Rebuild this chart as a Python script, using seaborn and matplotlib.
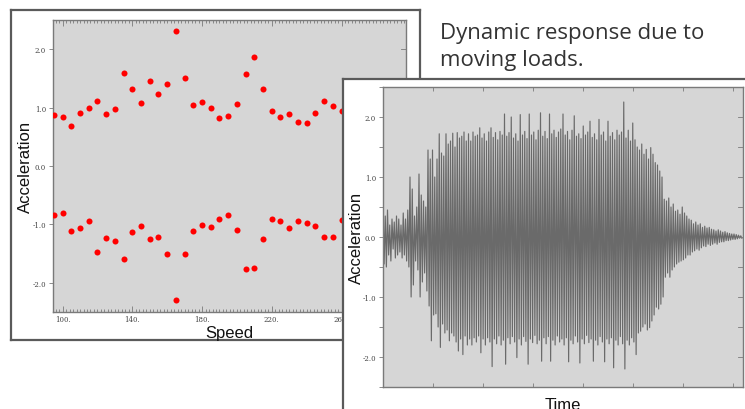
import numpy as np
import pandas as pd
import matplotlib
matplotlib.use("Agg")
import matplotlib.pyplot as plt
import seaborn as sns
from matplotlib.ticker import MultipleLocator, FixedLocator

# ---------------- data ----------------
speed = [95, 100, 105, 110, 115, 120, 125, 130, 135, 140, 145, 150, 155, 160, 165, 170, 175,
         180, 185, 190, 195, 200, 205, 210, 215, 220, 225, 230, 235, 240, 245, 250, 255, 260]
accel_max = [0.87, 0.84, 0.68, 0.90, 1.00, 1.11, 0.89, 0.98, 1.59, 1.31, 1.08, 1.46, 1.23, 1.41,
             2.31, 1.51, 1.05, 1.10, 0.99, 0.82, 0.85, 1.07, 1.58, 1.86, 1.32, 0.95, 0.84, 0.89,
             0.75, 0.73, 0.90, 1.11, 1.03, 0.94]
accel_min = [-0.84, -0.80, -1.12, -1.07, -0.95, -1.47, -1.23, -1.29, -1.60, -1.13, -1.03, -1.25,
             -1.21, -1.50, -2.29, -1.50, -1.12, -1.01, -1.04, -0.91, -0.84, -1.10, -1.77, -1.75,
             -1.25, -0.91, -0.94, -1.06, -0.95, -0.97, -1.02, -1.21, -1.21, -0.92]

# time history: successive peaks and troughs of the response signal
signal_peaks = [
    0.55, 0.35, 0.45, 0.20, 0.30, 0.25, 0.35, 0.30, 0.20, 0.40,
    0.30, 0.45, 1.00, 0.80, 0.35, 0.50, 1.05, 0.70, 0.60, 0.50,
    1.45, 1.30, 1.45, 1.00, 1.30, 1.72, 1.40, 1.35, 1.72, 1.55,
    1.60, 1.73, 1.50, 1.74, 1.65, 1.68, 1.75, 1.60, 1.72, 1.60,
    1.75, 1.68, 1.70, 1.82, 1.65, 1.72, 1.60, 1.75, 1.82, 1.66,
    1.74, 1.62, 1.76, 1.70, 2.05, 1.68, 1.74, 2.00, 1.65, 1.72,
    1.60, 2.04, 1.70, 1.76, 1.64, 2.05, 1.70, 1.75, 1.62, 1.78,
    2.07, 1.68, 1.76, 1.64, 2.05, 1.72, 1.78, 1.66, 1.75, 1.80,
    2.05, 1.70, 1.76, 1.62, 1.78, 2.02, 1.68, 1.72, 1.64, 1.85,
    1.70, 1.75, 1.93, 1.66, 1.72, 1.62, 1.96, 1.70, 1.75, 1.60,
    1.93, 1.68, 1.74, 1.62, 1.78, 1.70, 1.75, 2.25, 1.65, 1.78,
    1.60, 1.90, 1.62, 1.50, 1.45, 1.55, 1.38, 1.46, 1.30, 1.49,
    1.38, 1.24, 1.20, 1.10, 1.00, 0.63, 0.60, 0.65, 0.50, 0.55,
    0.43, 0.45, 0.38, 0.50, 0.40, 0.35, 0.30, 0.28, 0.22, 0.25,
    0.20, 0.22, 0.16, 0.18, 0.15, 0.16, 0.13, 0.12, 0.10, 0.12,
    0.10, 0.08, 0.09, 0.07, 0.06, 0.05, 0.05, 0.04, 0.03, 0.02]
signal_troughs = [
    -0.45, -0.50, -0.30, -0.40, -0.20, -0.35, -0.30, -0.25, -0.35, -0.30,
    -0.40, -0.50, -1.00, -0.80, -0.40, -0.55, -1.00, -0.75, -0.60, -0.90,
    -1.15, -1.73, -1.30, -1.28, -1.50, -1.84, -1.45, -1.60, -1.55, -1.73,
    -1.60, -1.65, -1.75, -1.90, -1.70, -1.96, -1.65, -1.80, -1.70, -1.80,
    -1.68, -1.75, -1.65, -1.93, -1.70, -1.80, -1.68, -1.75, -2.16, -1.70,
    -1.78, -1.65, -1.80, -1.72, -2.12, -1.68, -1.78, -1.66, -1.75, -2.01,
    -1.70, -1.80, -1.66, -1.74, -2.12, -1.70, -1.76, -1.64, -1.78, -1.72,
    -2.07, -1.68, -1.78, -1.66, -2.07, -1.72, -1.80, -1.65, -1.75, -1.70,
    -1.80, -1.68, -2.08, -1.72, -1.78, -1.65, -1.75, -2.10, -1.70, -1.78,
    -1.64, -1.76, -1.70, -2.07, -1.72, -1.80, -1.66, -1.75, -2.08, -1.70,
    -1.78, -1.68, -2.18, -1.72, -1.80, -1.66, -1.78, -2.20, -1.72, -1.80,
    -1.68, -1.75, -1.96, -1.60, -1.57, -1.50, -1.45, -1.55, -1.51, -1.40,
    -1.30, -1.17, -1.20, -1.12, -1.00, -0.67, -0.60, -0.67, -0.55, -0.50,
    -0.45, -0.42, -0.40, -0.38, -0.35, -0.30, -0.30, -0.25, -0.23, -0.20,
    -0.22, -0.18, -0.15, -0.16, -0.12, -0.14, -0.12, -0.10, -0.12, -0.09,
    -0.08, -0.08, -0.06, -0.06, -0.05, -0.04, -0.04, -0.03, -0.02, -0.02]
cycle_period = 0.225

left_xticks = [100, 140, 180, 220, 260]
left_xticklabels = ["100.", "140.", "180.", "220.", "260."]
yticks = [-2, -1, 0, 1, 2]
yticklabels = ["-2.0", "-1.0", "0.0", "1.0", "2.0"]
caption = ["Dynamic response due to", "moving loads."]

# ---------------- layout ----------------
W, H = 745, 410
fig = plt.figure(figsize=(W / 100, H / 100), dpi=100)
fig.patch.set_facecolor("white")


def box(x0, y0, x1, y1):
    return [x0 / W, 1 - y1 / H, (x1 - x0) / W, (y1 - y0) / H]


def frame(rect):
    a = fig.add_axes(rect)
    a.set_facecolor("white")
    a.set_xticks([])
    a.set_yticks([])
    for s in a.spines.values():
        s.set_color("#5a5a5a")
        s.set_linewidth(1.6)
    return a


BG = "#d6d6d6"
SP = "#7a7a7a"
TICKFONT = dict(family="DejaVu Serif", size=5, color="#444444")

# ---- left panel ----
frame(box(11, 11, 420, 341))
ax1 = fig.add_axes(box(53, 21, 406, 313))
ax1.set_facecolor(BG)
df1 = pd.DataFrame({"Speed": speed * 2,
                    "Acceleration": accel_max + accel_min})
sns.scatterplot(data=df1, x="Speed", y="Acceleration", ax=ax1, color="#ff0000",
                s=19, linewidth=0, zorder=3)
ax1.set_xlim(94.5, 297)
ax1.set_ylim(-2.5, 2.5)
ax1.xaxis.set_major_locator(FixedLocator(left_xticks))
ax1.set_xticklabels(left_xticklabels, fontdict=TICKFONT)
ax1.xaxis.set_minor_locator(MultipleLocator(2))
ax1.set_yticks(yticks)
ax1.set_yticklabels(yticklabels, fontdict=TICKFONT)
ax1.tick_params(axis="x", which="both", direction="in", top=True, bottom=True,
                color=SP, width=0.6, pad=2)
ax1.tick_params(axis="x", which="major", length=4)
ax1.tick_params(axis="x", which="minor", length=2)
ax1.tick_params(axis="y", which="major", direction="out", length=3, color=SP, width=0.6,
                pad=2, right=False)
for y in yticks:
    ax1.plot([1.0, 0.985], [y, y], transform=ax1.get_yaxis_transform(), color=SP, lw=0.6)
for s in ax1.spines.values():
    s.set_color(SP)
    s.set_linewidth(1.0)
ax1.set_xlabel("Speed", family="Liberation Sans", fontsize=12, labelpad=1, color="#111111")
ax1.set_ylabel("Acceleration", family="Liberation Sans", fontsize=12, color="#111111")
ax1.xaxis.set_label_coords(0.5, -0.045)
ax1.yaxis.set_label_coords(-0.058, 0.5)

# ---- right panel ----
frame(box(343, 80, 770, 440))
ax2 = fig.add_axes(box(383, 88, 743, 388))
ax2.set_facecolor(BG)
n = len(signal_peaks)
t_peaks = np.arange(n) * cycle_period
t_troughs = t_peaks + cycle_period / 2
time = np.empty(2 * n)
acc = np.empty(2 * n)
time[0::2], time[1::2] = t_peaks, t_troughs
acc[0::2], acc[1::2] = signal_peaks, signal_troughs
df2 = pd.DataFrame({"Time": time, "Acceleration": acc})
sns.lineplot(data=df2, x="Time", y="Acceleration", ax=ax2, color="#6a6a6a", lw=0.85,
             sort=False, estimator=None)
ax2.set_xlim(0, 36)
ax2.set_ylim(-2.5, 2.5)
ax2.xaxis.set_major_locator(MultipleLocator(5))
ax2.set_xticklabels(["0.0"] + [""] * 20, fontdict=TICKFONT, ha="left")
ax2.set_yticks(yticks)
ax2.set_yticklabels(yticklabels, fontdict=TICKFONT)
ax2.yaxis.set_minor_locator(MultipleLocator(0.5))
ax2.tick_params(axis="x", which="major", direction="in", top=True, bottom=True,
                length=3, color=SP, width=0.6, pad=2)
ax2.tick_params(axis="y", which="both", direction="out", length=3, color=SP, width=0.6,
                pad=2)
for y in np.arange(-2.5, 2.51, 0.5):
    ax2.plot([1.0, 0.985], [y, y], transform=ax2.get_yaxis_transform(), color=SP, lw=0.6)
for s in ax2.spines.values():
    s.set_color(SP)
    s.set_linewidth(1.0)
ax2.set_xlabel("Time", family="Liberation Sans", fontsize=12, color="#111111")
ax2.set_ylabel("Acceleration", family="Liberation Sans", fontsize=12, color="#111111")
ax2.xaxis.set_label_coords(0.5, -0.035)
ax2.yaxis.set_label_coords(-0.052, 0.5)

# ---- caption ----
fig.text(440 / W, 1 - 39.3 / H, caption[0], family="Open Sans", fontsize=16,
         color="#333333", va="baseline", ha="left")
fig.text(440 / W, 1 - 65.7 / H, caption[1], family="Open Sans", fontsize=16,
         color="#333333", va="baseline", ha="left")

fig.savefig("out.png", dpi=100, facecolor="white")
